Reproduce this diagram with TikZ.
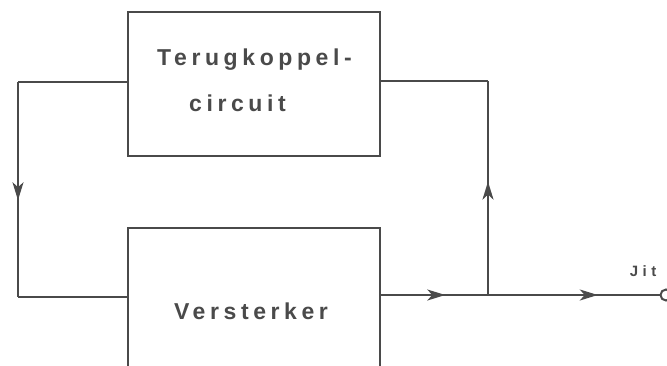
\documentclass[tikz,border=0pt]{standalone}
\usepackage{fontspec}
\setmainfont{Liberation Sans}
\newfontfamily\lblfont[LetterSpace=20]{Liberation Sans}
\newfontfamily\jitfont[LetterSpace=30]{Liberation Sans}
\usetikzlibrary{arrows.meta,decorations.markings}
\definecolor{ink}{HTML}{4A4A4A}
\tikzset{
  box/.style={draw=ink, line width=2.4pt, minimum width=252pt, inner sep=0pt},
  lbl/.style={text=ink, font=\lblfont\bfseries\fontsize{23}{26}\selectfont, inner sep=0pt},
  wire/.style={draw=ink, line width=2.2pt},
  midarrow/.style={postaction={decorate}, decoration={markings,
     mark=at position #1 with {\arrow[ink]{Stealth[length=18pt,width=11pt,inset=5pt]}}}}
}
\begin{document}
\begin{tikzpicture}[x=1pt,y=-1pt]
\useasboundingbox (0,0) rectangle (667,365);
\clip (0,0) rectangle (667,365);
\fill[white] (0,0) rectangle (667,365);
% boxes
\node[box, minimum height=144pt] (fb) at (254,84) {};
\node[box, minimum height=200pt, anchor=north] (amp) at (254,227) {};
% texts
\node[lbl, anchor=west] (t1) at (157,60) {Terugkoppel-};
\node[lbl, anchor=west] (t2) at (189,103) {circuit};
\node[lbl] (t3) at (251,311) {Versterker};
% coordinates
\coordinate (lt) at (18,82);
\coordinate (lb) at (18,297);
\coordinate (ain) at (amp.west |- lb);
\coordinate (aout) at (amp.east |- 0,295);
\coordinate (j) at (488,295);
\coordinate (rt) at (488,81);
\coordinate (fbo) at (fb.east |- rt);
\coordinate (fbi) at (fb.west |- lt);
\node[circle, draw=ink, line width=2pt, minimum size=11pt, inner sep=0pt] (out) at (666,295) {};
\node[text=ink, font=\jitfont\bfseries\fontsize{15}{17}\selectfont, inner sep=0pt] (jit) at (643,271) {Jit};
% connectors
\draw[wire] (fbi) -- (lt);
\draw[wire, midarrow=0.55] (lt) -- (lb);
\draw[wire] (lb) -- (ain);
\draw[wire, midarrow=0.6] (aout) -- (j);
\draw[wire, midarrow=0.53] (j) -- (rt);
\draw[wire] (rt) -- (fbo);
\draw[wire, midarrow=0.64] (j) -- (out.west);
\end{tikzpicture}
\end{document}
